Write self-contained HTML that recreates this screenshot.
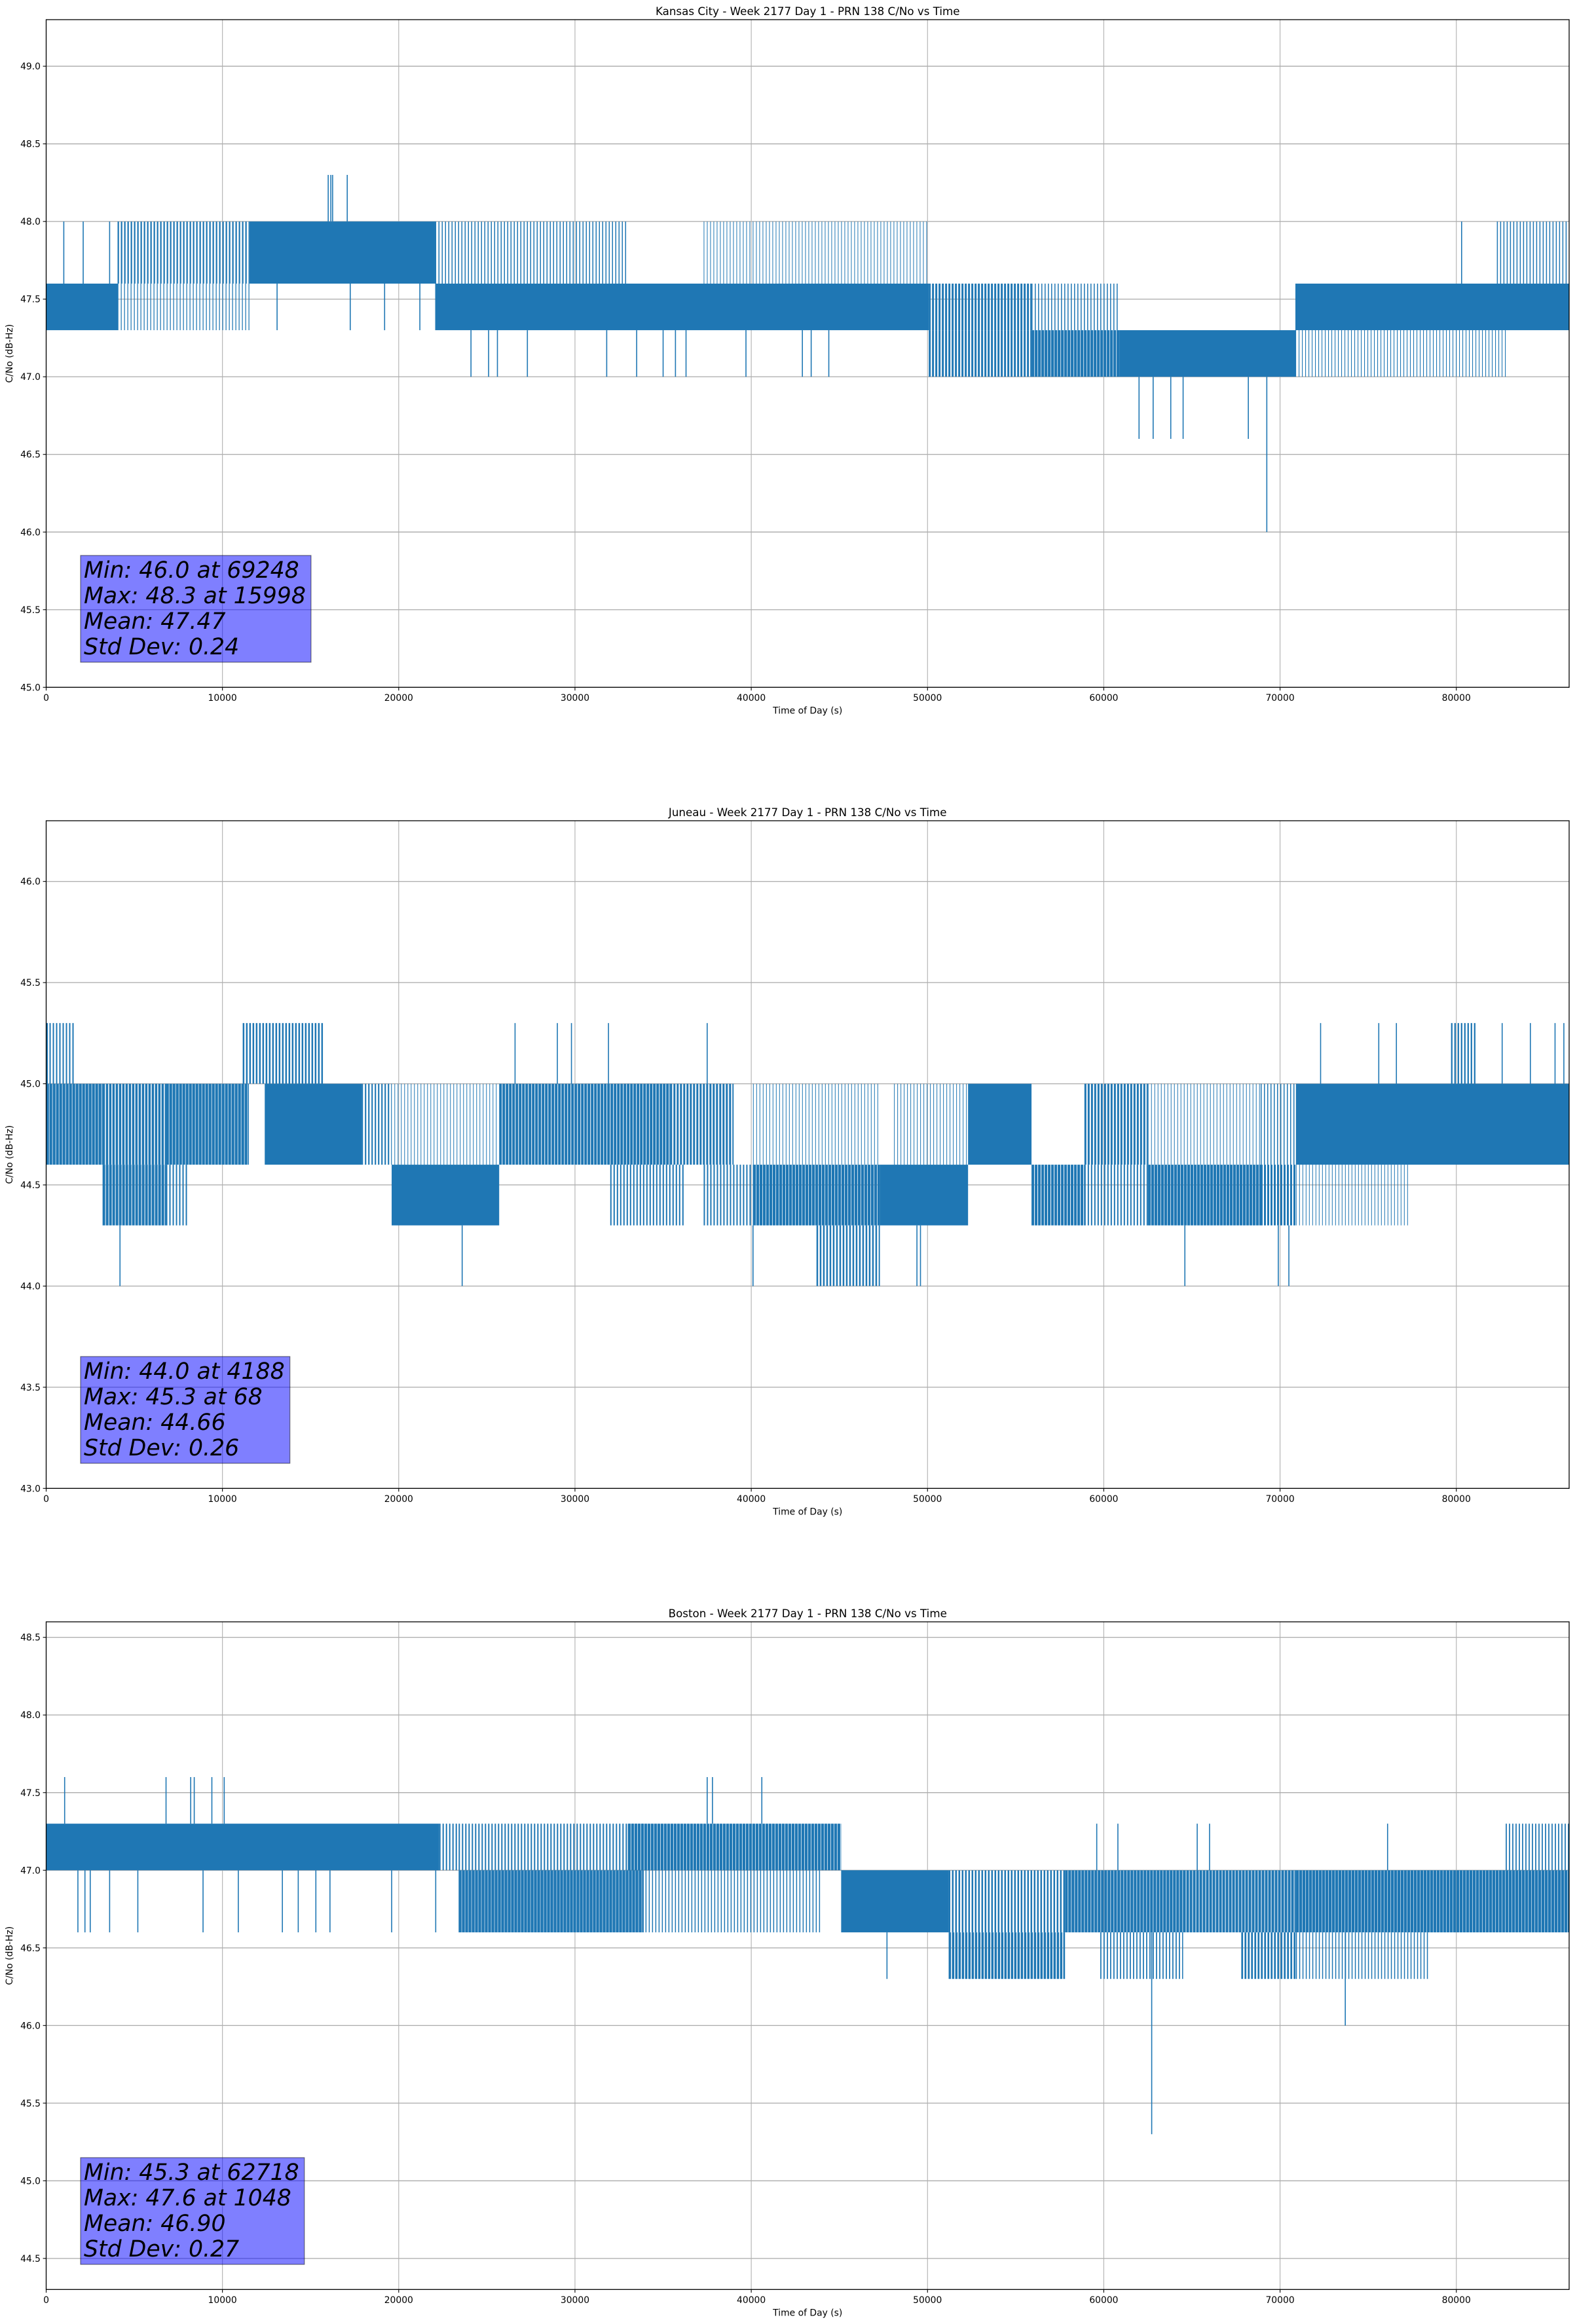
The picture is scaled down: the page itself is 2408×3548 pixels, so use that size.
<!DOCTYPE html>
<html><head><meta charset="utf-8"><title>PRN 138 C/No vs Time</title>
<style>
html,body{margin:0;padding:0;background:#fff;}
svg{display:block;font-family:"DejaVu Sans","Liberation Sans",sans-serif;}
</style></head>
<body>
<svg id="fig" width="2408" height="3548" viewBox="0 0 2408 3548" xmlns="http://www.w3.org/2000/svg"></svg>
<script>
// ---- Data (time in seconds, values in dB-Hz) ----
// bands: [tStart, tEnd, low, high, density]  dense oscillation regions
// spikes: [t, fromValue, toValue]            individual excursions
const kcBands = [
  [0,4050,47.3,47.6,0.9],[4050,11530,47.3,47.6,0.25],[4050,11530,47.6,48.0,0.45],
  [11530,22070,47.6,48.0,0.95],[22070,50070,47.3,47.6,0.92],[22070,33000,47.6,48.0,0.3],
  [37300,50000,47.6,48.0,0.12],[50070,55900,47.3,47.6,0.6],[50070,55900,47.0,47.3,0.6],
  [55900,60880,47.0,47.3,0.85],[55900,60880,47.3,47.6,0.3],[60880,70870,47.0,47.3,0.97],
  [70870,86400,47.3,47.6,0.92],[70870,82800,47.0,47.3,0.22],[82300,86400,47.6,48.0,0.3]
];
const kcSpikes = [
  [1000,47.6,48.0],[2100,47.6,48.0],[3600,47.6,48.0],[16000,48.0,48.3],[16150,48.0,48.3],[16250,48.0,48.3],[17080,48.0,48.3],
  [13100,47.6,47.3],[17250,47.6,47.3],[19200,47.6,47.3],[21200,47.6,47.3],
  [24100,47.3,47.0],[25100,47.3,47.0],[25600,47.3,47.0],[27300,47.3,47.0],[31800,47.3,47.0],[33500,47.3,47.0],[35000,47.3,47.0],
  [35700,47.3,47.0],[36300,47.3,47.0],[39700,47.3,47.0],[42900,47.3,47.0],[43400,47.3,47.0],[44400,47.3,47.0],
  [62000,47.0,46.6],[62800,47.0,46.6],[63800,47.0,46.6],[64500,47.0,46.6],[68200,47.0,46.6],[69248,47.0,46.0],
  [80300,47.6,48.0]
];
const junBands = [
  [0,3200,44.6,45.0,0.85],[0,1600,45.0,45.3,0.4],[3200,6800,44.3,44.6,0.8],[3200,6800,44.6,45.0,0.7],
  [6800,11500,44.6,45.0,0.85],[6800,8000,44.3,44.6,0.4],[11150,15700,45.0,45.3,0.5],
  [12400,17900,44.6,45.0,0.9],[17900,19600,44.6,45.0,0.4],[19600,25700,44.3,44.6,0.9],[17900,25700,44.6,45.0,0.2],
  [25700,35400,44.6,45.0,0.8],[32000,36200,44.3,44.6,0.4],[35400,39000,44.6,45.0,0.6],[37300,40100,44.3,44.6,0.4],
  [40100,47300,44.3,44.6,0.85],[40100,47300,44.6,45.0,0.1],[43700,47300,44.0,44.3,0.5],
  [47300,52300,44.3,44.6,0.9],[48100,52300,44.6,45.0,0.2],[52300,55900,44.6,45.0,0.9],
  [55900,58900,44.3,44.6,0.8],[58900,62500,44.6,45.0,0.6],[58900,62500,44.3,44.6,0.4],
  [62500,68900,44.3,44.6,0.85],[62500,68900,44.6,45.0,0.2],[68900,70900,44.3,44.6,0.6],[68900,70900,44.6,45.0,0.3],
  [70900,86400,44.6,45.0,0.93],[70900,77300,44.3,44.6,0.2],[79700,81100,45.0,45.3,0.45]
];
const junSpikes = [
  [68,45.0,45.3],[4188,44.3,44.0],[23600,44.3,44.0],[26600,45.0,45.3],[29000,45.0,45.3],[29800,45.0,45.3],[31900,45.0,45.3],
  [37500,45.0,45.3],[40100,44.3,44.0],[49400,44.3,44.0],[49600,44.3,44.0],[69900,44.3,44.0],[70500,44.3,44.0],[64600,44.3,44.0],
  [72300,45.0,45.3],[75600,45.0,45.3],[76600,45.0,45.3],[82600,45.0,45.3],[84200,45.0,45.3],[85600,45.0,45.3],[86100,45.0,45.3]
];
const bosBands = [
  [0,22300,47.0,47.3,0.92],[22300,23400,47.0,47.3,0.4],[23400,33900,46.6,47.0,0.88],[23400,33900,47.0,47.3,0.4],
  [33000,45100,47.0,47.3,0.85],[34000,44000,46.6,47.0,0.3],[45100,51200,46.6,47.0,0.9],
  [51200,57800,46.3,46.6,0.7],[51200,57800,46.6,47.0,0.5],[57800,64500,46.6,47.0,0.85],[59800,64500,46.3,46.6,0.35],
  [64500,70900,46.6,47.0,0.8],[67800,70900,46.3,46.6,0.55],[70900,86400,46.6,47.0,0.88],[70900,78400,46.3,46.6,0.3],
  [82800,86400,47.0,47.3,0.35]
];
const bosSpikes = [
  [1048,47.3,47.6],[6800,47.3,47.6],[8200,47.3,47.6],[8400,47.3,47.6],[9400,47.3,47.6],[10100,47.3,47.6],
  [37500,47.3,47.6],[37800,47.3,47.6],[40600,47.3,47.6],
  [1800,47.0,46.6],[2200,47.0,46.6],[2500,47.0,46.6],[3600,47.0,46.6],[5200,47.0,46.6],[8900,47.0,46.6],[10900,47.0,46.6],
  [13400,47.0,46.6],[14300,47.0,46.6],[15300,47.0,46.6],[16100,47.0,46.6],[19600,47.0,46.6],[22100,47.0,46.6],
  [62718,46.6,45.3],[73700,46.6,46.0],[47700,46.6,46.3],[52400,46.6,46.3],
  [59600,47.0,47.3],[60800,47.0,47.3],[65300,47.0,47.3],[66000,47.0,47.3],[76100,47.0,47.3]
];
const xTicks = [0,10000,20000,30000,40000,50000,60000,70000,80000];
const kcYTicks = [45.0,45.5,46.0,46.5,47.0,47.5,48.0,48.5,49.0];
const junYTicks = [43.0,43.5,44.0,44.5,45.0,45.5,46.0];
const bosYTicks = [44.5,45.0,45.5,46.0,46.5,47.0,47.5,48.0,48.5];
const kcStats = ["Min: 46.0 at 69248","Max: 48.3 at 15998","Mean: 47.47","Std Dev: 0.24"];
const junStats = ["Min: 44.0 at 4188","Max: 45.3 at 68","Mean: 44.66","Std Dev: 0.26"];
const bosStats = ["Min: 45.3 at 62718","Max: 47.6 at 1048","Mean: 46.90","Std Dev: 0.27"];

const NS = "http://www.w3.org/2000/svg";
const svg = document.getElementById('fig');
const L = 70.5, R = 2396, H = 1019.3, XMAX = 86400;
const BLUE = "#1f77b4";
function mk(tag, attrs, parent){ const e=document.createElementNS(NS,tag); for(const k in attrs) e.setAttribute(k,attrs[k]); (parent||svg).appendChild(e); return e; }

function drawChart(key, top, ymin, ymax, title, bands, spikes, yTicks, stats){
  const g = mk('g',{});
  
  
  const xs = t => L + (t/XMAX)*(R-L);
  const ys = v => top + H - (v-ymin)/(ymax-ymin)*H;
  xTicks.forEach(t=>{
    const l=mk('line',{x1:xs(t),x2:xs(t),y1:top,y2:top+H,stroke:'#b0b0b0','stroke-width':1.1},g);
    
    
  });
  yTicks.forEach(v=>{
    const l=mk('line',{x1:L,x2:R,y1:ys(v),y2:ys(v),stroke:'#b0b0b0','stroke-width':1.4},g);
    
    
  });
  // bands drawn as vertical stripes; stripe width ∝ density
  const P = 5;
  bands.forEach(b=>{
    const bg=mk('g',{fill:BLUE},g);
    
    
    const x0=xs(b[0]), x1=xs(b[1]), y0=ys(b[3]), hh=ys(b[2])-ys(b[3]);
    if(b[4]>=0.9){
      mk('rect',{x:x0,y:y0,width:Math.max(1,x1-x0),height:hh},bg);
    } else {
      const w=Math.max(1,P*b[4]);
      for(let x=x0; x<x1; x+=P){
        mk('rect',{x:x,y:y0,width:Math.min(w,x1-x),height:hh},bg);
      }
    }
  });
  spikes.forEach(s=>{
    const l=mk('line',{x1:xs(s[0]),x2:xs(s[0]),y1:ys(s[1]),y2:ys(s[2]),stroke:BLUE,'stroke-width':1.6},g);
    
    
  });
  const fr=mk('rect',{x:L,y:top,width:R-L,height:H,fill:'none',stroke:'#000','stroke-width':1.3},g);
  
  
  xTicks.forEach(t=>{
    mk('line',{x1:xs(t),x2:xs(t),y1:top+H,y2:top+H+4.9,stroke:'#000','stroke-width':1.1},g);
    const tx=mk('text',{x:xs(t),y:top+H+20.5,'font-size':13.9,'text-anchor':'middle',fill:'#000'},g);
    tx.textContent=String(t);
    
    
  });
  yTicks.forEach(v=>{
    mk('line',{x1:L-4.9,x2:L,y1:ys(v),y2:ys(v),stroke:'#000','stroke-width':1.1},g);
    const tx=mk('text',{x:L-8.5,y:ys(v)+5,'font-size':13.9,'text-anchor':'end',fill:'#000'},g);
    tx.textContent=v.toFixed(1);
    
    
  });
  const cx=(L+R)/2;
  const ti=mk('text',{x:cx,y:top-7,'font-size':16.7,'text-anchor':'middle',fill:'#000'},g);
  ti.textContent=title;
  
  
  const xl=mk('text',{x:cx,y:top+H+40,'font-size':13.9,'text-anchor':'middle',fill:'#000'},g);
  xl.textContent='Time of Day (s)';
  
  
  const yl=mk('text',{x:0,y:0,'font-size':13.9,'text-anchor':'middle',fill:'#000',transform:`translate(19,${top+H/2}) rotate(-90)`},g);
  yl.textContent='C/No (dB-Hz)';
  
  
  const bx=123, by=top+818;
  const box=mk('rect',{x:bx,y:by,width:300,height:163,fill:'#0000ff','fill-opacity':0.5,stroke:'#000','stroke-opacity':0.5,'stroke-width':1.2},g);
  
  
  let maxW=0;
  stats.forEach((s,i)=>{
    const t=mk('text',{x:128,y:by+34+i*39,'font-size':34.7,'font-style':'italic',fill:'#000'},g);
    t.textContent=s;
    
    
    maxW=Math.max(maxW,t.getComputedTextLength());
  });
  box.setAttribute('width', maxW+13);
}

drawChart('kansas-city',30,45.0,49.3,'Kansas City - Week 2177 Day 1 - PRN 138 C/No vs Time',kcBands,kcSpikes,kcYTicks,kcStats);
drawChart('juneau',1253,43.0,46.3,'Juneau - Week 2177 Day 1 - PRN 138 C/No vs Time',junBands,junSpikes,junYTicks,junStats);
drawChart('boston',2476,44.3,48.6,'Boston - Week 2177 Day 1 - PRN 138 C/No vs Time',bosBands,bosSpikes,bosYTicks,bosStats);
</script>
</body></html>
